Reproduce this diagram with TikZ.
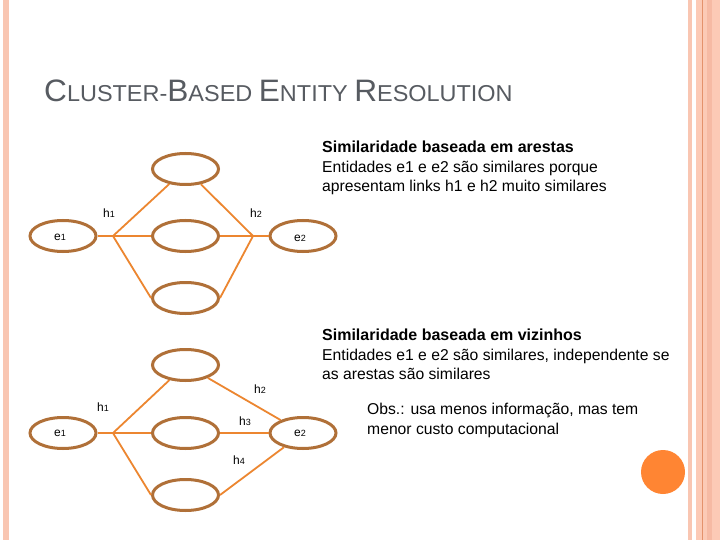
\documentclass[tikz,border=0pt]{standalone}
\usepackage{graphicx}
\usepackage{fontspec}
\setmainfont{Liberation Sans}
\usetikzlibrary{shapes.geometric}
\newcommand{\BigL}[1]{{\fontsize{31}{31}\selectfont #1}}
\newcommand{\SmL}[1]{{\fontsize{23}{23}\selectfont #1}}
\begin{document}
\begin{tikzpicture}[x=1pt,y=-1pt,
  clus/.style={draw=ellbrown,line width=3pt,ellipse,minimum width=66pt,minimum height=31pt,inner sep=0pt},
  link/.style={draw=linkor,line width=1.8pt},
  lbl/.style={font=\fontsize{12}{12}\selectfont,text=black,inner sep=0pt},
  body/.style={anchor=base west,inner sep=0pt,font=\fontsize{15.7}{15.7}\selectfont,text=black},
  bodyb/.style={anchor=base west,inner sep=0pt,font=\fontsize{16}{16}\selectfont\bfseries,text=black},
  ttl/.style={anchor=base west,inner sep=0pt,text=titlegray}]
\definecolor{ellbrown}{HTML}{B07038}
\definecolor{linkor}{HTML}{EC8630}
\definecolor{titlegray}{HTML}{575B61}
\definecolor{bandA}{HTML}{F9C6B2}
\definecolor{bandB}{HTML}{FCCAB6}
\definecolor{bandC}{HTML}{F6BAA4}
\definecolor{bandLine}{HTML}{E4926C}
\definecolor{dotor}{HTML}{FF8533}
\useasboundingbox (0,0) rectangle (720,540);
\fill[white] (0,0) rectangle (720,540);
% borders
\fill[bandA] (3,0) rectangle (9,540);
\fill[bandA] (688,0) rectangle (692,540);
\fill[bandB] (696,0) rectangle (720,540);
\fill[bandC] (707,0) rectangle (712,540);
\fill[bandLine] (701.5,0) rectangle (702.8,540);
\fill[dotor] (663,472) circle (22);
% title
\node[ttl] (title) at (44,101.5) {\scalebox{1.02}[1]{\BigL{C}\SmL{LUSTER-}\BigL{B}\SmL{ASED }\BigL{E}\SmL{NTITY }\BigL{R}\SmL{ESOLUTION}}};
% text blocks
\node[bodyb] (t1a) at (322,153) {Similaridade baseada em arestas};
\node[body] (t1b) at (322,172.5) {Entidades e1 e e2 são similares porque};
\node[body] (t1c) at (322,192) {apresentam links h1 e h2 muito similares};
\node[bodyb] (t2a) at (322,340.5) {Similaridade baseada em vizinhos};
\node[body] (t2b) at (322,360) {Entidades e1 e e2 são similares, independente se};
\node[body] (t2c) at (322,379) {as arestas são similares};
\node[body] (t3a) at (367,414.5) {Obs.: usa menos informação, mas tem};
\node[body] (t3b) at (367,434) {menor custo computacional};
% ---- top diagram
\node[clus] (ae1) at (63,236) {};
\node[clus] (ae2) at (303,236) {};
\node[clus] (at) at (185.5,169) {};
\node[clus] (am) at (185.5,236) {};
\node[clus] (ab) at (185.5,298) {};
\coordinate (ah1) at (113,236);
\coordinate (ah2) at (253,236);
\draw[link] (ae1) -- (ah1);
\draw[link] (ah1) -- (at);
\draw[link] (ah1) -- (am);
\draw[link] (ah1) -- (ab.west);
\draw[link] (at) -- (ah2);
\draw[link] (am) -- (ah2);
\draw[link] (ab.east) -- (ah2);
\draw[link] (ah2) -- (ae2);
\node[lbl] (al1) at (60,237) {e{\fontsize{9}{9}\selectfont 1}};
\node[lbl] (al2) at (300,238) {e{\fontsize{9}{9}\selectfont 2}};
\node[lbl] (alh1) at (109,213) {h{\fontsize{9}{9}\selectfont 1}};
\node[lbl] (alh2) at (256,213) {h{\fontsize{9}{9}\selectfont 2}};
% ---- bottom diagram
\node[clus] (be1) at (63,433) {};
\node[clus] (be2) at (303,433) {};
\node[clus] (bt) at (185.5,365) {};
\node[clus] (bm) at (185.5,433) {};
\node[clus] (bb) at (185.5,495) {};
\coordinate (bh1) at (113,433);
\draw[link] (be1) -- (bh1);
\draw[link] (bh1) -- (bt);
\draw[link] (bh1) -- (bm);
\draw[link] (bh1) -- (bb.west);
\draw[link] (bt) -- (be2);
\draw[link] (bm) -- (be2);
\draw[link] (bb.east) -- (be2);
\node[lbl] (bl1) at (60,433) {e{\fontsize{9}{9}\selectfont 1}};
\node[lbl] (bl2) at (300,433) {e{\fontsize{9}{9}\selectfont 2}};
\node[lbl] (blh1) at (103,407) {h{\fontsize{9}{9}\selectfont 1}};
\node[lbl] (blh2) at (260,389) {h{\fontsize{9}{9}\selectfont 2}};
\node[lbl] (blh3) at (245,421) {h{\fontsize{9}{9}\selectfont 3}};
\node[lbl] (blh4) at (239,460) {h{\fontsize{9}{9}\selectfont 4}};
\end{tikzpicture}
\end{document}
